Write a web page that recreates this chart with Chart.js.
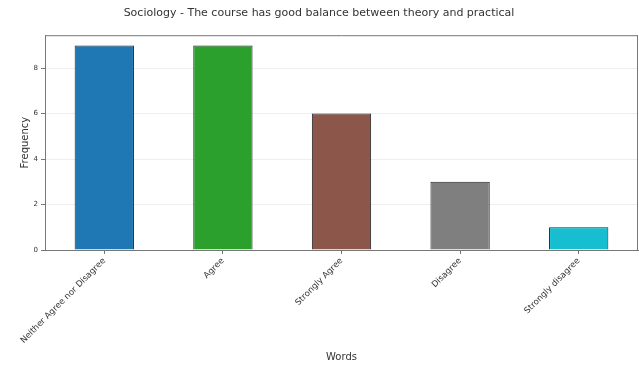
<!DOCTYPE html>
<html lang="en">
<head>
    <meta charset="UTF-8">
    <title>Sociology - balance between theory and practical</title>
    <script src="https://cdn.jsdelivr.net/npm/chart.js"></script>
    <style>
        html, body {
            margin: 0;
            padding: 0;
            background: #fff;
        }
        .wrap {
            width: 639px;
            height: 371px;
        }
    </style>
</head>
<body>
    <div class="wrap">
        <canvas id="chart" width="639" height="371"></canvas>
    </div>

    <script>
        const categories = ['Neither Agree nor Disagree', 'Agree', 'Strongly Agree', 'Disagree', 'Strongly disagree'];
        const frequencies = [9, 9, 6, 3, 1];
        const barColors = ['#1f77b4', '#2ca02c', '#8c564b', '#7f7f7f', '#17becf'];
        const yTicks = [0, 2, 4, 6, 8];

        const font = "'DejaVu Sans', sans-serif";

        // matplotlib-style frame: top and right spines
        const frame = {
            id: 'frame',
            afterDatasetsDraw(chart) {
                const { ctx, chartArea: a } = chart;
                ctx.save();
                ctx.strokeStyle = '#777';
                ctx.lineWidth = 1;
                ctx.beginPath();
                ctx.moveTo(a.left, a.top + 0.5);
                ctx.lineTo(a.right, a.top + 0.5);
                ctx.moveTo(a.right - 0.5, a.top);
                ctx.lineTo(a.right - 0.5, a.bottom);
                ctx.stroke();
                ctx.restore();
            }
        };

        new Chart(document.getElementById('chart'), {
            type: 'bar',
            data: {
                labels: categories,
                datasets: [{
                    data: frequencies,
                    backgroundColor: barColors,
                    borderColor: '#222',
                    borderWidth: 1,
                    barPercentage: 0.5,
                    categoryPercentage: 1
                }]
            },
            options: {
                responsive: false,
                animation: false,
                devicePixelRatio: 1,
                layout: { padding: { left: 0, right: 1, top: 0, bottom: 0 } },
                plugins: {
                    legend: { display: false },
                    tooltip: { enabled: false },
                    title: {
                        display: true,
                        text: 'Sociology - The course has good balance between theory and practical',
                        color: '#333',
                        font: { family: font, size: 11, weight: 'normal' },
                        padding: { top: 7, bottom: 15 }
                    }
                },
                scales: {
                    x: {
                        grid: { offset: false, drawOnChartArea: false, drawTicks: true, tickLength: 4, color: '#777' },
                        border: { color: '#777' },
                        ticks: {
                            color: '#333',
                            font: { family: font, size: 8.5 },
                            minRotation: 45,
                            maxRotation: 45,
                            padding: 2
                        },
                        title: {
                            display: true,
                            text: 'Words',
                            color: '#333',
                            font: { family: font, size: 10 },
                            padding: { top: 0, bottom: 8 }
                        },
                        afterFit(scale) { scale.height = 121; }
                    },
                    y: {
                        min: 0,
                        max: 9.45,
                        afterBuildTicks(scale) {
                            scale.ticks = yTicks.map(v => ({ value: v }));
                        },
                        grid: { color: '#eee', tickLength: 4, tickColor: '#777' },
                        border: { color: '#777' },
                        ticks: {
                            color: '#333',
                            font: { family: font, size: 7 },
                            padding: 3
                        },
                        title: {
                            display: true,
                            text: 'Frequency',
                            color: '#333',
                            font: { family: font, size: 10 },
                            padding: { top: 19, bottom: 0 }
                        },
                        afterFit(scale) { scale.width = 45; }
                    }
                }
            },
            plugins: [frame]
        });
    </script>
</body>
</html>
